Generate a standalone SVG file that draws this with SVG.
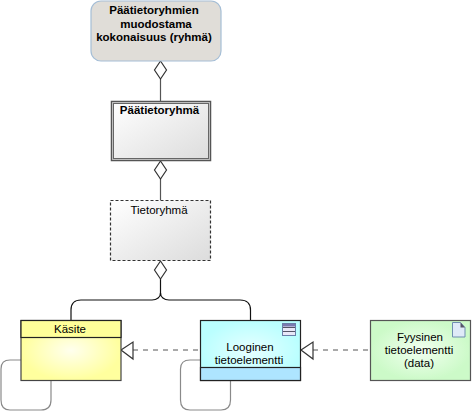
<svg xmlns="http://www.w3.org/2000/svg" width="472" height="412" viewBox="0 0 472 412">
<style>
text{font-family:"Liberation Sans",Arial,sans-serif;font-size:11.5px;fill:#000;text-anchor:middle}
.b{font-weight:bold}
.c{fill:none;stroke:#555;stroke-width:1.2}
.k{fill:none;stroke:#111;stroke-width:1.2}
.l{fill:none;stroke:#8a8a8a;stroke-width:1.2}
.d{fill:#fff;stroke:#333;stroke-width:1.2}
.da{fill:none;stroke:#555;stroke-width:1;stroke-dasharray:5 5}
</style>
<defs>
<linearGradient id="g" x1="0" y1="0" x2="1" y2="1"><stop offset="0" stop-color="#fff"/><stop offset="1" stop-color="#dcdcdc"/></linearGradient>
<radialGradient id="y"><stop offset="0" stop-color="#ffffee"/><stop offset="1" stop-color="#ffff9e"/></radialGradient>
<radialGradient id="cy"><stop offset="0" stop-color="#e6ffff"/><stop offset="1" stop-color="#baffff"/></radialGradient>
<radialGradient id="gr"><stop offset="0" stop-color="#f2fff0"/><stop offset="1" stop-color="#ccfac8"/></radialGradient>
</defs>
<g id="connectors">
<path class="c" d="M160.500 79V101"/>
<path class="d" d="M160.500 61l6 9-6 9-6-9z"/>
<path class="c" d="M160.500 178V200"/>
<path class="d" d="M160.500 161l6 9-6 9-6-9z"/>
<path class="k" d="M160.500 279V294"/>
<path class="d" d="M160.500 261l6 9-6 9-6-9z"/>
<path class="k" d="M152 300C157 300 160.500 297 160.500 293C160.500 297 164 300 169 300H240Q250.500 300 250.500 310V320"/>
<path class="k" d="M152 300H81Q71 300 71 310V320"/>
<path class="l" d="M21 360H10Q1 360 1 369V400Q1 410 10 410H41Q51 410 51 400V380"/>
<path class="l" d="M200 360H190Q180.500 360 180.500 369V400Q180.500 410 190 410H221Q230.500 410 230.500 400V380"/>
<path class="da" d="M133 350H200"/>
<path class="d" d="M121 350l12-8v17z"/>
<path class="da" d="M313 350H370"/>
<path class="d" d="M301 350l12-8v17z"/>
</g>
<g id="n1"><rect x="91" y="1" width="130" height="60" rx="10" fill="#e0ddd8" stroke="#a5bed6" stroke-width="1.200"/>
<text class="b" x="154" y="14">Päätietoryhmien</text><text class="b" x="156" y="27.500">muodostama</text><text class="b" x="154" y="40.500">kokonaisuus (ryhmä)</text></g>
<g id="n2"><rect x="111.500" y="101.500" width="99" height="59" fill="url(#g)" stroke="#555" stroke-width="1.500"/><rect x="113.500" y="103.500" width="95" height="55" fill="none" stroke="#666" stroke-width="1"/><rect x="112.500" y="102.500" width="97" height="57" fill="none" stroke="#bbb" stroke-width=".8"/>
<text class="b" x="159.500" y="113.500">Päätietoryhmä</text></g>
<g id="n3"><rect x="110.500" y="200.500" width="100" height="60" fill="url(#g)" stroke="#333" stroke-width="1.200" stroke-dasharray="3 2"/>
<text x="159" y="213.500">Tietoryhmä</text></g>
<g id="n4"><rect x="21" y="320.500" width="100" height="60" fill="url(#y)" stroke="#444" stroke-width="1.200"/><rect x="21" y="320.500" width="100" height="17" fill="#ffff99" stroke="#222" stroke-width="1.200"/>
<text x="70" y="333">Käsite</text></g>
<g id="n5"><rect x="200.500" y="320.500" width="100" height="60" fill="url(#cy)" stroke="#222" stroke-width="1.200"/><rect x="200.500" y="367.500" width="100" height="13" fill="#aee5ff" stroke="#222" stroke-width="1.200"/>
<g stroke="#6a7fa8"><rect x="282.500" y="323.500" width="13" height="12" fill="#e8e8f8"/><path d="M283 327.500h12M283 331.500h12" stroke="#556" fill="none"/><rect x="283" y="324" width="12" height="2.500" fill="#7a7ab0" stroke="none"/></g>
<text x="250" y="351">Looginen</text><text x="249" y="364">tietoelementti</text></g>
<g id="n6"><rect x="370.500" y="320.500" width="100" height="60" fill="url(#gr)" stroke="#555" stroke-width="1.200"/>
<path d="M452.500 322.500h8l4.500 5v9.500h-12.500z" fill="#dfeaf8" stroke="#6f8fb0"/><path d="M460.500 322.500v5h4.500z" fill="#556"/>
<text x="420" y="341">Fyysinen</text><text x="419" y="354">tietoelementti</text><text x="419" y="367">(data)</text></g>
</svg>
